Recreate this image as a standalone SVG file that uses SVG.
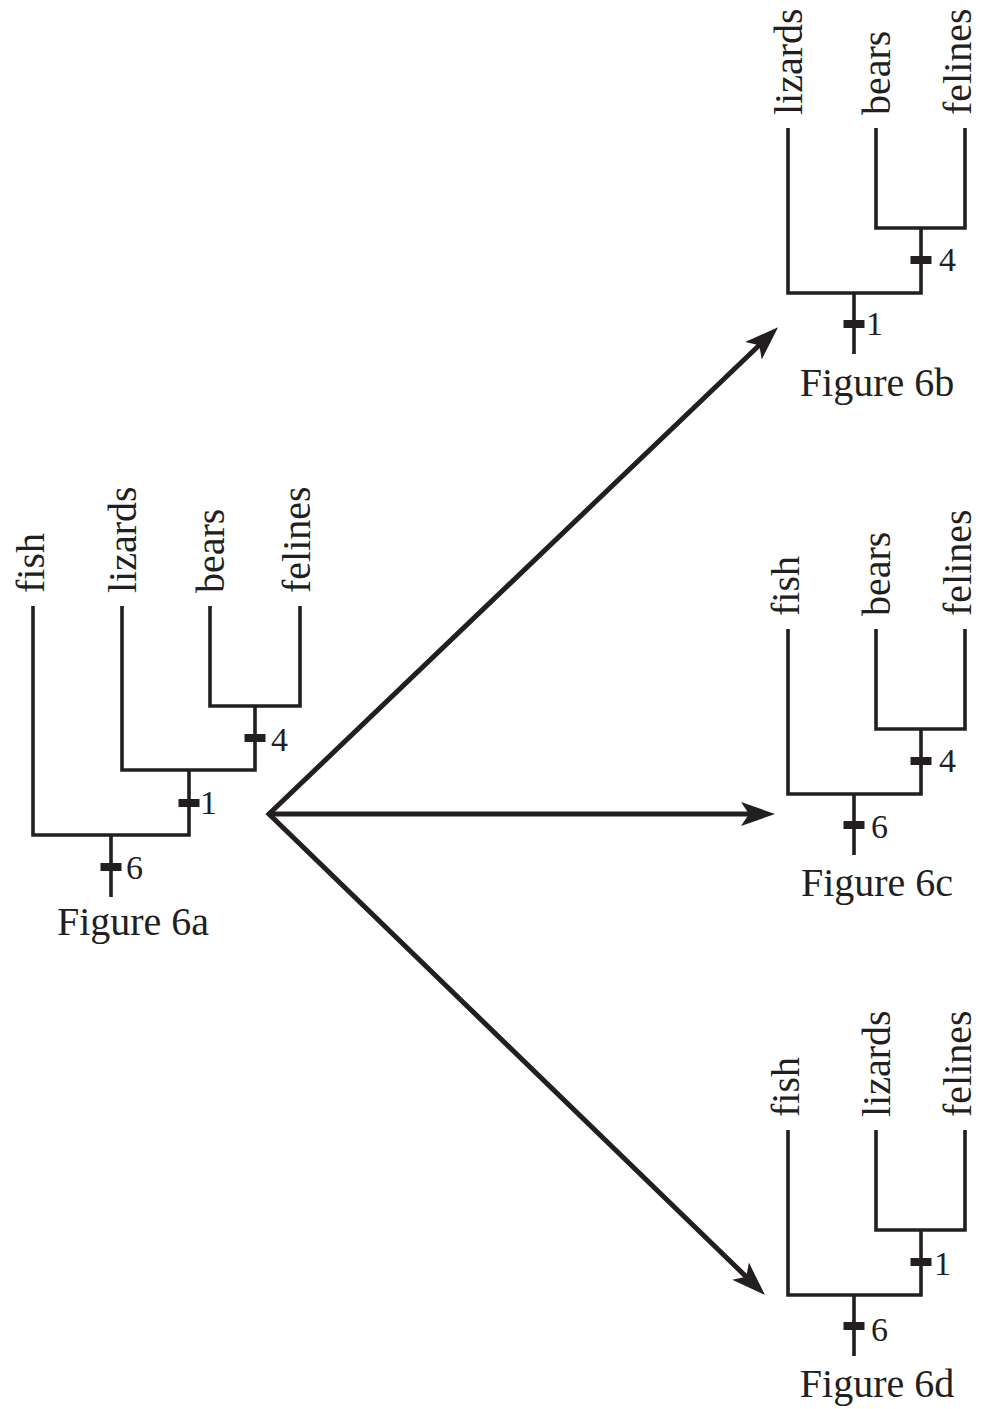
<svg xmlns="http://www.w3.org/2000/svg" width="981" height="1409" viewBox="0 0 981 1409">
<style>
.br{fill:none;stroke:#231f20;stroke-width:3.6;stroke-linejoin:miter}
.tk{fill:#231f20}
.lb{font-family:"Liberation Serif","Times New Roman",serif;font-size:40px;fill:#231f20}
.nm{font-family:"Liberation Serif","Times New Roman",serif;font-size:34px;fill:#231f20}
.fg{font-family:"Liberation Serif","Times New Roman",serif;font-size:40px;fill:#231f20;text-anchor:middle}
.ar{fill:none;stroke:#231f20;stroke-width:5;stroke-linejoin:miter;stroke-miterlimit:10}
</style>
<defs>
<marker id="ah" markerUnits="userSpaceOnUse" viewBox="-10 -13 40 26" markerWidth="40" markerHeight="26" refX="0" refY="0" orient="auto-start-reverse">
<path d="M25,0 L-9,-12 L-1,0 L-9,12 Z" fill="#231f20"/>
</marker>
</defs>

<g id="connectors">
<path class="ar" d="M760,344.5 L269,814 L747,1277.5" marker-start="url(#ah)" marker-end="url(#ah)"/>
<path class="ar" d="M268,814 L750,814" marker-end="url(#ah)"/>
</g>

<g id="fig6a">
<path class="br" d="M33,606 V835 H189 V770 M122,606 V770 H255 V706 M210,606 V706 H300 V606 M111,835 V897"/>
<rect class="tk" x="244.5" y="734" width="21" height="8"/>
<rect class="tk" x="178.5" y="799" width="21" height="8"/>
<rect class="tk" x="100.5" y="863" width="21" height="8"/>
<text class="nm" x="271" y="751">4</text>
<text class="nm" x="200" y="814">1</text>
<text class="nm" x="126" y="879">6</text>
<text class="lb" transform="translate(44,593) rotate(-90)">fish</text>
<text class="lb" transform="translate(136,593) rotate(-90)">lizards</text>
<text class="lb" transform="translate(224,593) rotate(-90)">bears</text>
<text class="lb" transform="translate(310,593) rotate(-90)">felines</text>
<text class="fg" x="133" y="935">Figure 6a</text>
</g>

<g id="fig6b">
<path class="br" d="M788,128 V293 H921 V228 M876,128 V228 H965 V128 M854,293 V354"/>
<rect class="tk" x="910.5" y="256" width="21" height="8"/>
<rect class="tk" x="843.5" y="320" width="21" height="8"/>
<text class="nm" x="939" y="271">4</text>
<text class="nm" x="866" y="335">1</text>
<text class="lb" transform="translate(802,115) rotate(-90)">lizards</text>
<text class="lb" transform="translate(890,115) rotate(-90)">bears</text>
<text class="lb" transform="translate(971,115) rotate(-90)">felines</text>
<text class="fg" x="877" y="396">Figure 6b</text>
</g>

<g id="fig6c" transform="translate(0,501)">
<path class="br" d="M788,128 V293 H921 V228 M876,128 V228 H965 V128 M854,293 V354"/>
<rect class="tk" x="910.5" y="256" width="21" height="8"/>
<rect class="tk" x="843.5" y="320" width="21" height="8"/>
<text class="nm" x="939" y="271">4</text>
<text class="nm" x="871" y="337">6</text>
<text class="lb" transform="translate(799,115) rotate(-90)">fish</text>
<text class="lb" transform="translate(890,115) rotate(-90)">bears</text>
<text class="lb" transform="translate(971,115) rotate(-90)">felines</text>
<text class="fg" x="877" y="395">Figure 6c</text>
</g>

<g id="fig6d" transform="translate(0,1002)">
<path class="br" d="M788,128 V293 H921 V228 M876,128 V228 H965 V128 M854,293 V354"/>
<rect class="tk" x="910.5" y="256" width="21" height="8"/>
<rect class="tk" x="843.5" y="320" width="21" height="8"/>
<text class="nm" x="934" y="273">1</text>
<text class="nm" x="871" y="339">6</text>
<text class="lb" transform="translate(799,115) rotate(-90)">fish</text>
<text class="lb" transform="translate(890,115) rotate(-90)">lizards</text>
<text class="lb" transform="translate(971,115) rotate(-90)">felines</text>
<text class="fg" x="877" y="395">Figure 6d</text>
</g>
</svg>
